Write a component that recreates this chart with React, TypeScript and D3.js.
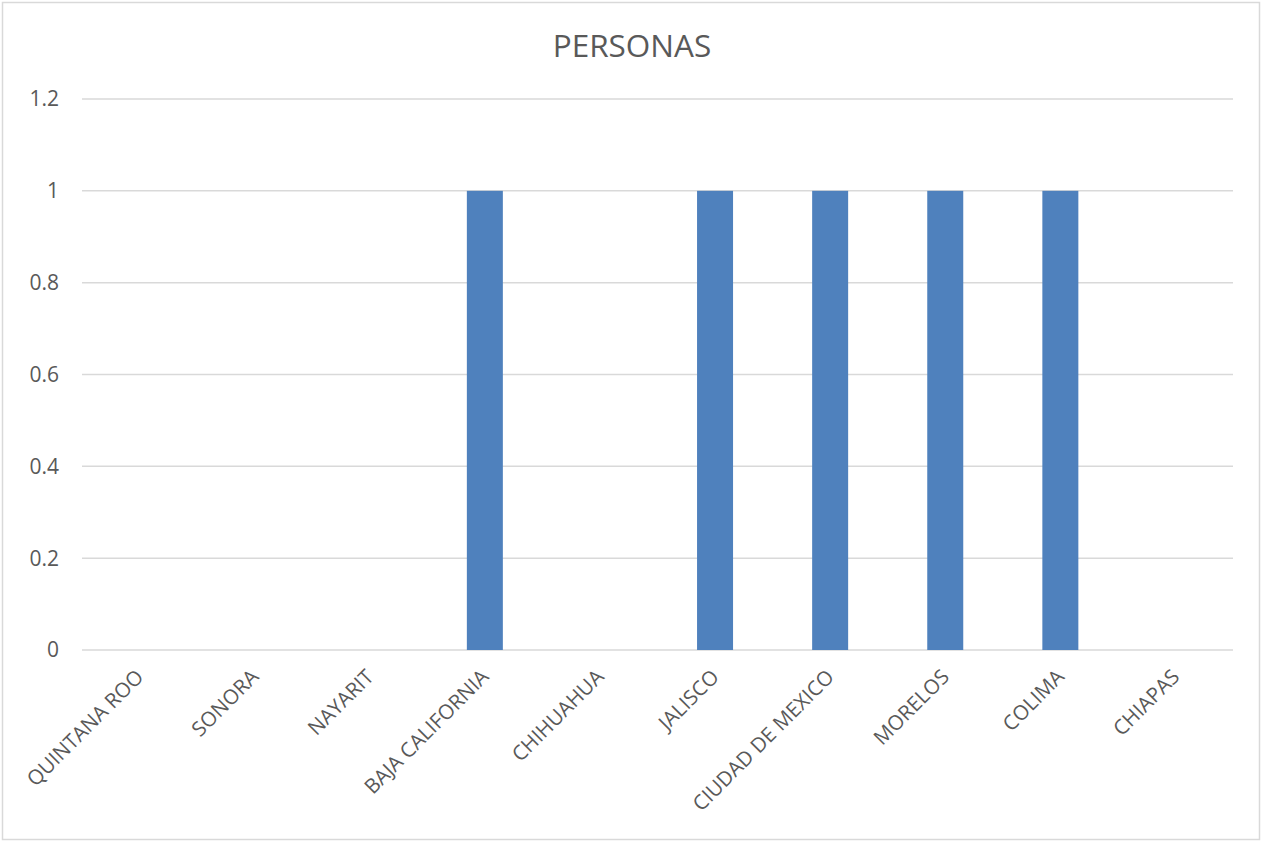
import React from "react";
import * as d3 from "d3";

const title = "PERSONAS";
const categories = [
  "QUINTANA ROO",
  "SONORA",
  "NAYARIT",
  "BAJA CALIFORNIA",
  "CHIHUAHUA",
  "JALISCO",
  "CIUDAD DE MEXICO",
  "MORELOS",
  "COLIMA",
  "CHIAPAS",
];
const values = [0, 0, 0, 1, 0, 1, 1, 1, 1, 0];
const yTicks = [0, 0.2, 0.4, 0.6, 0.8, 1, 1.2];

const W = 1263;
const H = 843;
const FONT = "'Open Sans', 'Noto Sans', sans-serif";

export default function App() {
  const x = d3
    .scaleBand<string>()
    .domain(categories)
    .range([82, 1233])
    .paddingInner(0)
    .paddingOuter(0);
  const y = d3.scaleLinear().domain([0, 1.2]).range([650, 99]);
  const barW = 36;

  return (
    <svg
      width={W}
      height={H}
      style={{ position: "absolute", left: 0, top: 0, background: "#fff" }}
    >
      <rect x={2.5} y={2.5} width={1257} height={837} fill="#fff" stroke="#D9D9D9" strokeWidth={1.5} />
      <text
        x={632}
        y={57}
        textAnchor="middle"
        fontFamily={FONT}
        fontSize={31.5}
        fill="#595959"
      >
        {title}
      </text>
      {yTicks.map((t) => (
        <g key={t}>
          <line
            x1={82}
            x2={1233}
            y1={y(t)}
            y2={y(t)}
            stroke="#D9D9D9"
            strokeWidth={1.5}
          />
          <text
            x={59}
            y={y(t)}
            dy="0.35em"
            textAnchor="end"
            fontFamily={FONT}
            fontSize={21}
            fill="#595959"
          >
            {String(t)}
          </text>
        </g>
      ))}
      {categories.map((c, i) => {
        const cx = (x(c) as number) + x.bandwidth() / 2;
        return (
          <g key={c}>
            {values[i] > 0 && (
              <rect
                x={cx - barW / 2}
                y={y(values[i])}
                width={barW}
                height={y(0) - y(values[i])}
                fill="#4F81BD"
              />
            )}
            <text
              transform={`translate(${cx - 5},${668}) rotate(-45)`}
              textAnchor="end"
              dy="0.7em"
              fontFamily={FONT}
              fontSize={20.5}
              fill="#595959"
            >
              {c}
            </text>
          </g>
        );
      })}
    </svg>
  );
}
